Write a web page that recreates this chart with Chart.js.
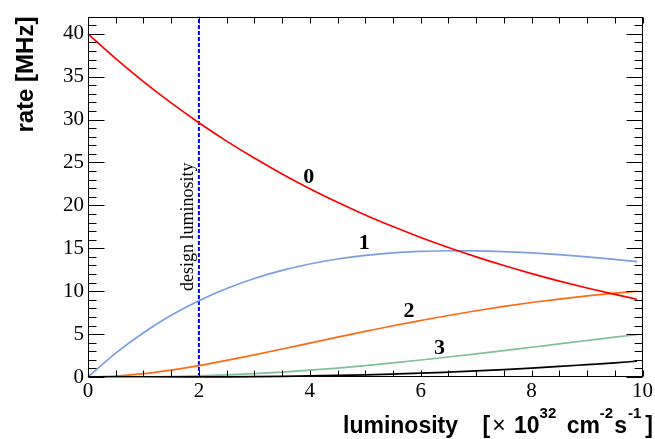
<!DOCTYPE html>
<html>
<head>
<meta charset="utf-8">
<script src="https://cdn.jsdelivr.net/npm/chart.js@4/dist/chart.umd.min.js"></script>
<style>
html,body{margin:0;padding:0;background:#fff;}
canvas{display:block;}
</style>
</head>
<body>
<canvas id="c" width="655" height="439"></canvas>
<script>
// luminosity [x10^32 cm^-2 s^-1]
const lumi  = [0,0.5,1,1.5,2,2.5,3,3.5,4,4.5,5,5.5,6,6.5,7,7.5,8,8.5,9,9.5,9.9];
// rate [MHz] for 0,1,2,3,4 interactions per crossing
const rate0 = [40,37.11,34.43,31.94,29.63,27.49,25.51,23.66,21.95,20.37,18.89,17.53,16.26,15.09,14.00,12.99,12.05,11.18,10.37,9.62,9.06];
const rate1 = [0,2.78,5.16,7.19,8.89,10.31,11.48,12.42,13.17,13.75,14.17,14.46,14.63,14.71,14.70,14.61,14.46,14.25,14.00,13.71,13.45];
const rate2 = [0,0.10,0.39,0.81,1.33,1.93,2.58,3.26,3.95,4.64,5.31,5.97,6.58,7.17,7.72,8.22,8.68,9.08,9.45,9.77,9.99];
const rate3 = [0,0.003,0.02,0.06,0.13,0.24,0.39,0.57,0.79,1.04,1.33,1.64,1.98,2.33,2.70,3.08,3.47,3.86,4.25,4.64,4.94];
const rate4 = [0,0,0.001,0.003,0.01,0.02,0.04,0.07,0.12,0.18,0.25,0.34,0.44,0.57,0.71,0.87,1.04,1.23,1.44,1.65,1.84];
const designLumi = 2;
const yTicks = [0,5,10,15,20,25,30,35,40];
const xTicks = [0,2,4,6,8,10];
const curveLabels = ['0','1','2','3'];
const curveLabelX = [3.98,4.98,5.79,6.34];
const curveLabelY = [23.26,15.54,7.71,3.34];

const series = [rate0, rate1, rate2, rate3, rate4];
const colors = ['#ff0000','#7b9ede','#ff6a10','#7fbf9c','#000000'];
const datasets = series.map((s,i)=>({
  data: lumi.map((x,j)=>({x:x,y:s[j]})),
  borderColor: colors[i],
  borderWidth: 1.7,
  pointRadius: 0,
  fill: false,
  cubicInterpolationMode: 'monotone',
  clip: false
}));
datasets.push({
  data: [{x:designLumi,y:0},{x:designLumi,y:42}],
  borderColor: '#0000ff',
  borderWidth: 2,
  borderDash: [4,2],
  pointRadius: 0,
  fill: false
});

const framePlugin = {
  id: 'frame',
  afterDraw(chart){
    const ctx = chart.ctx, a = chart.chartArea;
    const xs = chart.scales.x, ys = chart.scales.y;
    ctx.save();
    ctx.strokeStyle = '#000';
    ctx.lineWidth = 1;
    const L = Math.round(a.left)+0.5, R = Math.round(a.right)-0.5, T = Math.round(a.top)+0.5, B = Math.round(a.bottom)-0.5;
    ctx.strokeRect(L, T, R-L, B-T);
    ctx.beginPath();
    for(let v=0; v<=42; v+=1){
      const p = Math.round(ys.getPixelForValue(v))+0.5;
      const len = (v%5===0)?16:8;
      ctx.moveTo(L,p); ctx.lineTo(L+len,p);
      ctx.moveTo(R,p); ctx.lineTo(R-len,p);
    }
    for(let v=0; v<=10.001; v+=0.5){
      const p = Math.round(xs.getPixelForValue(v))+0.5;
      ctx.moveTo(p,B); ctx.lineTo(p,B-6);
      ctx.moveTo(p,T); ctx.lineTo(p,T+6);
    }
    ctx.stroke();

    // curve labels
    ctx.fillStyle = '#000';
    ctx.font = 'bold 22px "Liberation Serif"';
    ctx.textAlign = 'center';
    ctx.textBaseline = 'middle';
    curveLabels.forEach((t,i)=>{
      ctx.fillText(t, xs.getPixelForValue(curveLabelX[i]), ys.getPixelForValue(curveLabelY[i]));
    });

    // design luminosity label
    ctx.save();
    ctx.translate(xs.getPixelForValue(1.89), ys.getPixelForValue(17.5));
    ctx.rotate(-Math.PI/2);
    ctx.font = '18px "Liberation Serif"';
    ctx.textAlign = 'center';
    ctx.textBaseline = 'alphabetic';
    ctx.fillText('design luminosity', 0, 0);
    ctx.restore();

    // y title
    ctx.save();
    ctx.translate(33, a.top);
    ctx.rotate(-Math.PI/2);
    ctx.font = 'bold 24px "Liberation Sans"';
    ctx.textAlign = 'right';
    ctx.textBaseline = 'alphabetic';
    ctx.fillText('rate [MHz]', 0, 0);
    ctx.restore();

    // x title
    ctx.textAlign = 'left';
    ctx.textBaseline = 'alphabetic';
    const base = 433;
    ctx.font = 'bold 23px "Liberation Sans"';
    ctx.fillText('luminosity', 343, base);
    const big = 'bold 23px "Liberation Sans"', sup = 'bold 15px "Liberation Sans"';
    const segs = [
      {t:'[', f:big, dy:0, g:2},
      {t:'\u00d7', f:'23px "Liberation Sans"', dy:0, g:2},
      {t:' 10', f:big, dy:0, g:0},
      {t:'32', f:sup, dy:-15, g:4},
      {t:' cm', f:big, dy:0, g:0},
      {t:'-2', f:sup, dy:-15, g:1},
      {t:'s', f:big, dy:0, g:1},
      {t:'-1', f:sup, dy:-15, g:4},
      {t:']', f:big, dy:0, g:0}
    ];
    let total = 0;
    segs.forEach(s=>{ ctx.font = s.f; total += ctx.measureText(s.t).width + s.g; });
    let x = 653 - total;
    segs.forEach(s=>{
      ctx.font = s.f;
      ctx.fillText(s.t, x, base+s.dy);
      x += ctx.measureText(s.t).width + s.g;
    });
    ctx.restore();
  }
};

new Chart(document.getElementById('c'), {
  type: 'line',
  data: { datasets },
  options: {
    responsive: false,
    animation: false,
    layout: { padding: { top: 12, right: 7, left: 0, bottom: 0 } },
    plugins: { legend: { display: false }, tooltip: { enabled: false } },
    scales: {
      x: {
        type: 'linear', min: 0, max: 10,
        grid: { display: false, drawTicks: false },
        border: { display: false },
        afterFit: s => { s.height = 62; },
        afterBuildTicks: s => { s.ticks = xTicks.map(v=>({value:v})); },
        ticks: { color: '#000', padding: 2, maxRotation: 0, font: { family: '"Liberation Serif"', size: 21 } }
      },
      y: {
        type: 'linear', min: 0, max: 42,
        grid: { display: false, drawTicks: false },
        border: { display: false },
        afterFit: s => { s.width = 88; },
        afterBuildTicks: s => { s.ticks = yTicks.map(v=>({value:v})); },
        ticks: { color: '#000', padding: 4, font: { family: '"Liberation Serif"', size: 21 } }
      }
    }
  },
  plugins: [framePlugin]
});
</script>
</body>
</html>
